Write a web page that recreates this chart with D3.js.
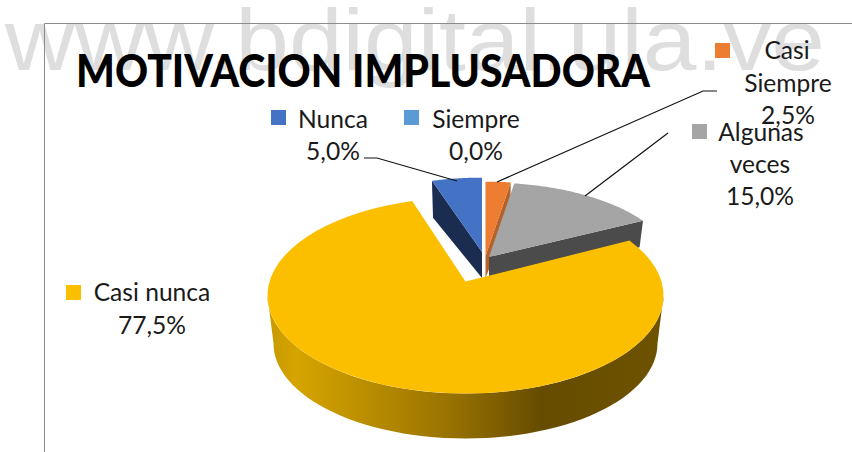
<!DOCTYPE html>
<html>
<head>
<meta charset="utf-8">
<script src="https://cdn.jsdelivr.net/npm/d3@7"></script>
<style>
	html, body { margin: 0; padding: 0; background: #fff; }
	svg { display: block; }
	text { font-family: Lato, "Open Sans", sans-serif; fill: #1a1a1a; }
</style>
</head>
<body>
<svg id="chart" width="852" height="452"></svg>
<script>
"use strict";
// order is the one the pie is dealt in, clockwise from the top
var categories = ["Siempre", "Casi Siempre", "Algunas veces", "Casi nunca", "Nunca"];
var values = [0, 2.5, 15, 77.5, 5];
var labels = ["0,0%", "2,5%", "15,0%", "77,5%", "5,0%"];
var colors = ["#5b9bd5", "#ed7d31", "#a5a5a5", "#fcbf00", "#4472c4"];
var sideColors = ["#3d6f9c", "#b5622a", "#4b4b4b", "#6b4e00", "#1a2c50"];
var chartTitle = "MOTIVACION IMPLUSADORA";
var watermark = "www.bdigital.ula.ve";

var oSVG = d3.select("#chart");
var perspective = 1 / 7;

// where each wedge tip sits, exploded slices are shifted by hand like the original
var slicePos = {
	"Casi Siempre": { x: 485.5, y: 256, rx: 184, ry: 85, sideStart: false },
	"Algunas veces": { x: 489, y: 257, rx: 184, ry: 85, sideStart: false },
	"Nunca": { x: 482, y: 252, rx: 184, ry: 85, sideStart: true },
	"Casi nunca": { x: 465.5, y: 281.5, rx: 196, ry: 96 }
};
var sideDrop = { y: 278, rx: 180, ry: 72 };
var yellowBottom = { x: 465.5, y: 330, rx: 190, ry: 93 };

// circle angle to screen, with the far side squeezed by the perspective
function project(p, a) {
	var u = Math.sin(a), v = Math.cos(a), w = 1 + perspective * v;
	return [p.x + p.rx * u / w, p.y - p.ry * v / w];
}
var line = d3.line();
function rimPoints(p, a0, a1) {
	return d3.range(0, 61).map(function(i) {
		return project(p, a0 + (a1 - a0) * i / 60);
	});
}

var pie = d3.pie().sort(null).value(function(d) { return d; });
var arcs = pie(values);

// watermark goes under everything
oSVG.append("text")
	.attr("x", 5).attr("y", 70)
	.attr("textLength", 820).attr("lengthAdjust", "spacingAndGlyphs")
	.style("font-family", "'Liberation Sans', Arial, sans-serif")
	.style("font-size", "88px")
	.style("fill", "#dedede")
	.text(watermark);

// frame
oSVG.append("path")
	.attr("d", line([[44.5, 452], [44.5, 23.5], [852, 23.5]]))
	.attr("fill", "none").attr("stroke", "#8c8c8c").attr("stroke-width", 1);

// gradient for the round side of the big slice
var oGrad = oSVG.append("defs").append("linearGradient")
	.attr("id", "sideGrad").attr("gradientUnits", "userSpaceOnUse")
	.attr("x1", 273).attr("x2", 657).attr("y1", 0).attr("y2", 0);
[[0, "#c99b00"], [0.06, "#d6a400"], [0.45, "#9a7400"], [0.7, "#664c00"], [1, "#6d5200"]].forEach(function(s) {
	oGrad.append("stop").attr("offset", s[0]).attr("stop-color", s[1]);
});

function drawSlice(i) {
	var d = arcs[i], p = slicePos[categories[i]];
	if (p.sideStart !== undefined) {
		var a = p.sideStart ? d.startAngle : d.endAngle;
		var b = { x: p.x, y: sideDrop.y, rx: sideDrop.rx, ry: sideDrop.ry };
		oSVG.append("path")
			.attr("d", line([[p.x, p.y], project(p, a), project(b, a), [b.x, b.y]]) + "Z")
			.attr("fill", sideColors[i]);
	}
	oSVG.append("path")
		.attr("d", line([[p.x, p.y]].concat(rimPoints(p, d.startAngle, d.endAngle))) + "Z")
		.attr("fill", colors[i]);
}

drawSlice(1);
drawSlice(2);
drawSlice(4);

// big slice, side first then the top
var tangent = Math.acos(-perspective);
var topEdge = rimPoints(slicePos["Casi nunca"], tangent, 2 * Math.PI - tangent);
var botEdge = rimPoints(yellowBottom, tangent, 2 * Math.PI - tangent).reverse();
oSVG.append("path")
	.attr("d", line(topEdge.concat(botEdge)) + "Z")
	.attr("fill", "url(#sideGrad)");
drawSlice(3);

// leader lines
var leaders = [
	[[364, 158], [377, 158], [457, 181]],
	[[717, 91], [703, 91], [497, 182]],
	[[668, 133], [585, 196]]
];
oSVG.selectAll("path.leader").data(leaders).enter().append("path")
	.attr("class", "leader")
	.attr("d", function(d) { return line(d); })
	.attr("fill", "none").attr("stroke", "#111").attr("stroke-width", 1.2);

// title
oSVG.append("text")
	.attr("x", 76).attr("y", 87)
	.attr("textLength", 574).attr("lengthAdjust", "spacingAndGlyphs")
	.style("font-size", "46px").style("font-weight", 900).style("fill", "#000")
	.text(chartTitle);

// legend keys and data labels
var legend = [
	{ i: 4, kx: 271, ky: 110, k: 15, lines: [["Nunca", 333, 128], [labels[4], 333, 160]] },
	{ i: 0, kx: 404, ky: 110, k: 15, lines: [["Siempre", 476, 128], [labels[0], 476, 160]] },
	{ i: 1, kx: 715, ky: 43, k: 15, lines: [["Casi", 787, 59], ["Siempre", 788, 92], [labels[1], 788, 124]] },
	{ i: 2, kx: 692, ky: 124, k: 15, lines: [["Algunas", 761, 141], ["veces", 760, 173], [labels[2], 760, 205]] },
	{ i: 3, kx: 66, ky: 285, k: 15, lines: [["Casi nunca", 152, 301], [labels[3], 152, 334]] }
];
legend.forEach(function(l) {
	oSVG.append("rect")
		.attr("x", l.kx).attr("y", l.ky).attr("width", l.k).attr("height", l.k)
		.attr("fill", colors[l.i]);
	l.lines.forEach(function(t) {
		oSVG.append("text")
			.attr("x", t[1]).attr("y", t[2])
			.attr("text-anchor", "middle")
			.style("font-size", "24.6px")
			.text(t[0]);
	});
});
</script>
</body>
</html>
